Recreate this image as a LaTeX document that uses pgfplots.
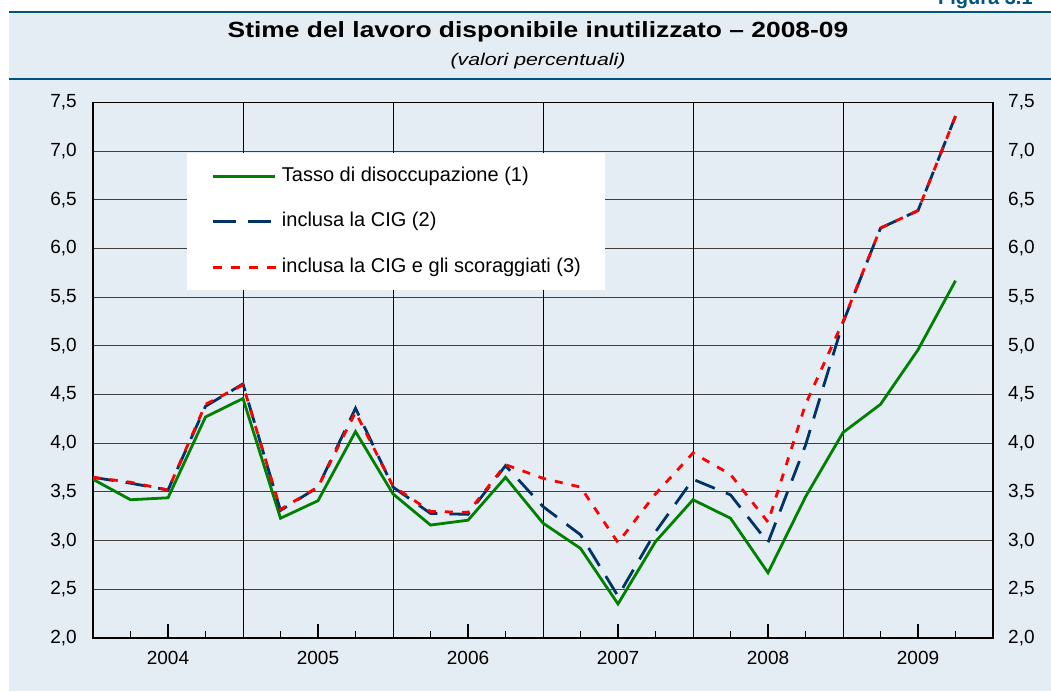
\documentclass[border=0pt]{standalone}
\usepackage{fontspec}
\setmainfont{Liberation Sans}
\usepackage{pgfplots}
\pgfplotsset{compat=1.18}
\usepackage{pgfplotstable}
\usepackage{graphicx}

\definecolor{bg}{RGB}{228,236,244}
\definecolor{band}{RGB}{0,85,128}
\definecolor{myGreen}{RGB}{0,128,0}
\definecolor{myNavy}{RGB}{0,51,102}
\definecolor{myRed}{RGB}{255,0,0}

\pgfplotstableread{
i green blue red
0 3.63 3.65 3.65
1 3.42 3.59 3.60
2 3.44 3.52 3.52
3 4.27 4.38 4.40
4 4.46 4.61 4.60
5 3.23 3.31 3.32
6 3.41 3.55 3.55
7 4.12 4.36 4.32
8 3.48 3.55 3.56
9 3.16 3.28 3.30
10 3.21 3.27 3.29
11 3.65 3.77 3.78
12 3.18 3.35 3.64
13 2.92 3.06 3.55
14 2.35 2.43 2.98
15 2.99 3.09 3.48
16 3.42 3.63 3.90
17 3.23 3.47 3.68
18 2.67 2.98 3.19
19 3.45 3.98 4.40
20 4.11 5.24 5.25
21 4.40 6.21 6.21
22 4.96 6.39 6.39
23 5.67 7.36 7.36
}\data

\pgfplotsset{
  ylabfmt/.style={
    font=\fontsize{19}{23}\selectfont,
    /pgf/number format/.cd, fixed, fixed zerofill, precision=1, use comma, assume math mode=true
  }
}

\begin{document}
\begin{tikzpicture}
\path[use as bounding box] (0pt,0pt) rectangle (1051pt,691pt);
\fill[bg] (9pt,0pt) rectangle (1051pt,679pt);
\draw[band, line width=2.5pt] (9pt,679pt) -- (1051pt,679pt);
\draw[band, line width=2.5pt] (9pt,612pt) -- (1051pt,612pt);
\node[anchor=base west, text=band, font=\fontsize{20}{24}\selectfont\bfseries, inner sep=0pt] at (938pt,686pt) {Figura 3.1};
\node[anchor=base, font=\fontsize{22}{26}\selectfont\bfseries, inner sep=0pt] at (538pt,653.5pt) {\scalebox{1.2}[1]{Stime del lavoro disponibile inutilizzato – 2008-09}};
\node[anchor=base, font=\fontsize{17}{20}\selectfont\itshape, inner sep=0pt] at (538pt,625pt) {\scalebox{1.25}[1]{(valori percentuali)}};

\begin{axis}[
  at={(93pt,53pt)}, anchor=south west,
  width=900pt, height=535.5pt, scale only axis,
  xmin=0, xmax=24, ymin=2, ymax=7.5,
  axis line style={black, line width=1.5pt},
  xtick={2,6,10,14,18,22},
  xticklabels={2004,2005,2006,2007,2008,2009},
  minor xtick={1,3,5,7,9,11,13,15,17,19,21,23},
  xtick pos=left, xtick align=inside,
  major tick length=14pt, minor tick length=7pt,
  xtick style={black, line width=1.2pt},
  xticklabel style={anchor=north, inner sep=0pt, yshift=-13pt, font=\fontsize{19}{23}\selectfont},
  extra x ticks={4,8,12,16,20},
  extra x tick labels={},
  extra x tick style={grid=major, major grid style={black, line width=1pt}, major tick length=0pt},
  ytick={2,2.5,3,3.5,4,4.5,5,5.5,6,6.5,7,7.5},
  ytick pos=left,
  ytick style={draw=none},
  ymajorgrids,
  major grid style={black!75, line width=1pt},
  yticklabel style={anchor=east, inner sep=0pt, xshift=-16pt, ylabfmt},
  legend cell align=left,
  legend style={
    at={(0.1044,0.9057)}, anchor=north west, draw=none, fill=white,
    inner xsep=24pt, inner ysep=13pt,
    font=\fontsize{20}{24}\selectfont,
    nodes={inner sep=0pt, text height=15pt, text depth=5pt},
    row sep=25.5pt
  },
]
\addplot[myGreen, line width=2.8pt,
  legend image code/.code={\draw[myGreen, line width=2.8pt] (0pt,0pt) -- (62pt,0pt); \path (0pt,-5pt) (68pt,5pt);}]
  table[x=i, y=green] {\data};
\addlegendentry{Tasso di disoccupazione (1)}
\addplot[myNavy, line width=2.8pt, dash pattern=on 21pt off 12pt,
  legend image code/.code={\draw[myNavy, line width=2.8pt, dash pattern=on 23pt off 12pt] (0pt,0pt) -- (58pt,0pt); \path (0pt,-5pt) (68pt,5pt);}]
  table[x=i, y=blue] {\data};
\addlegendentry{inclusa la CIG (2)}
\addplot[myRed, line width=2.8pt, dash pattern=on 8pt off 9pt,
  legend image code/.code={\draw[myRed, line width=2.8pt, dash pattern=on 9pt off 9pt] (0pt,0pt) -- (63pt,0pt); \path (0pt,-5pt) (68pt,5pt);}]
  table[x=i, y=red] {\data};
\addlegendentry{inclusa la CIG e gli scoraggiati (3)}
\end{axis}

\begin{axis}[
  at={(93pt,53pt)}, anchor=south west,
  width=900pt, height=535.5pt, scale only axis,
  xmin=0, xmax=24, ymin=2, ymax=7.5,
  axis x line=none, axis y line*=right,
  y axis line style={draw=none},
  ytick={2,2.5,3,3.5,4,4.5,5,5.5,6,6.5,7,7.5},
  ytick style={draw=none},
  yticklabel style={anchor=west, inner sep=0pt, xshift=15pt, ylabfmt},
]
\addplot[draw=none] coordinates {(0,2) (24,7.5)};
\end{axis}
\end{tikzpicture}
\end{document}
